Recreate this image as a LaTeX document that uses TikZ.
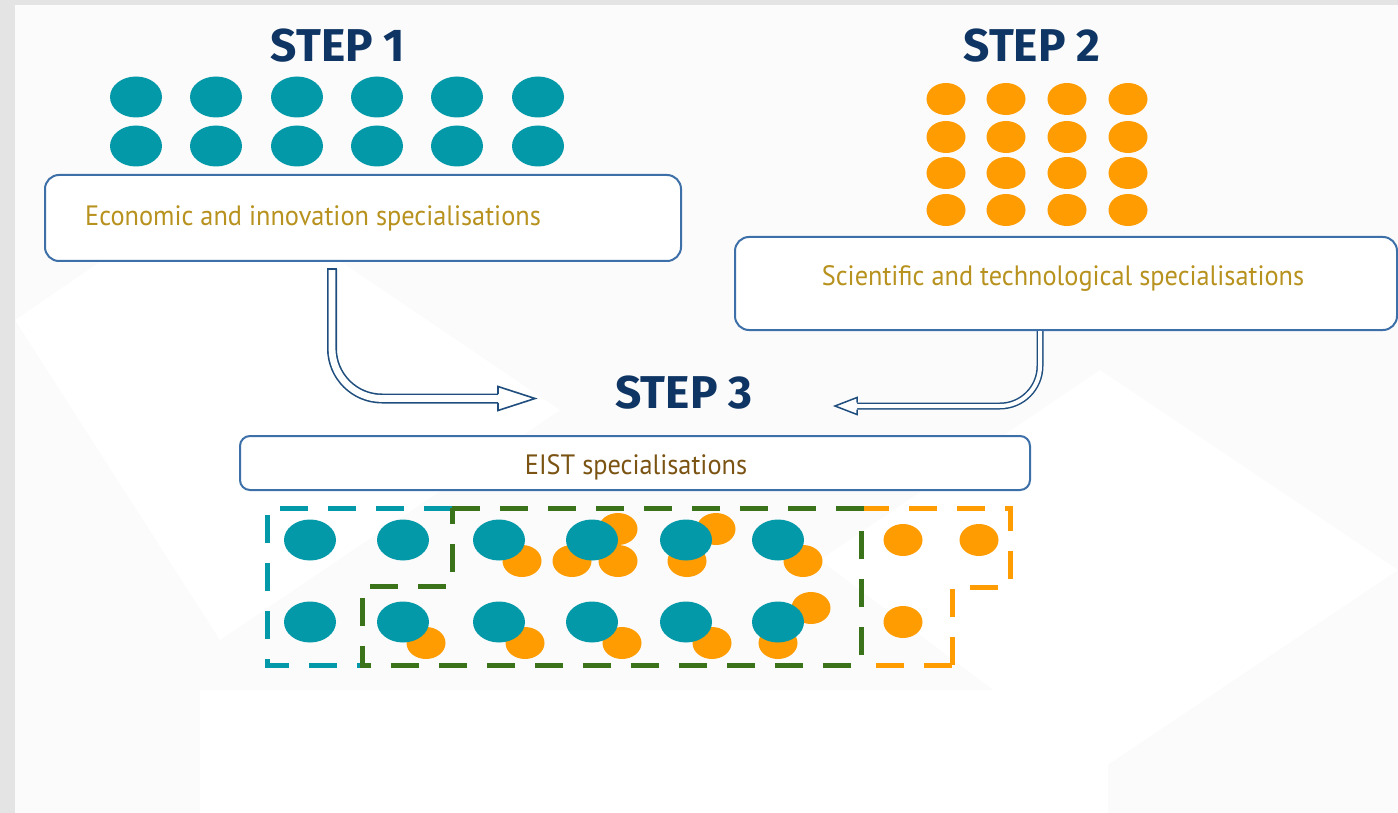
\documentclass[tikz,border=0pt]{standalone}
\usepackage{fontspec}
\setmainfont{PT Sans}
\newfontfamily\boxfont{PT Sans}[FakeStretch=0.94]
\newfontfamily\stepfont{Fira Sans}
\usetikzlibrary{calc}
\definecolor{tealc}{HTML}{0499A8}
\definecolor{orangec}{HTML}{FE9C02}
\definecolor{greenc}{HTML}{3B731B}
\definecolor{navy}{HTML}{0E3563}
\definecolor{boxblue}{HTML}{3D6FA8}
\definecolor{arrowblue}{HTML}{1F4E7E}
\definecolor{goldtxt}{HTML}{B8921E}
\definecolor{browntxt}{HTML}{7B5414}
\definecolor{bggray}{HTML}{E4E4E4}
\definecolor{panel}{HTML}{FBFBFB}
\tikzset{
  steptitle/.style={font=\stepfont\bfseries\fontsize{46}{50}\selectfont, text=navy, inner sep=0pt},
  specbox/.style={draw=boxblue, line width=2pt, rounded corners=14pt, fill=white, inner sep=0pt},
  boxtext/.style={font=\boxfont\fontsize{28}{31}\selectfont, inner sep=0pt},
  tdot/.style={fill=tealc},
  odot/.style={fill=orangec},
  zone/.style={line width=5pt, dash pattern=on 28pt off 20pt, line join=miter},
  hollow/.style={draw=arrowblue, line width=1.6pt, double=white},
  headshape/.style={draw=arrowblue, line width=1.6pt, fill=white, line join=miter}
}
\begin{document}
\begin{tikzpicture}[x=1pt,y=-1pt]
\useasboundingbox (0,0) rectangle (1398,813);
% background
\fill[bggray] (0,0) rectangle (1398,813);
\fill[panel] (15,5) rectangle (1398,813);
\fill[white] (15,320) -- (220,180) -- (560,410) -- (220,640) -- cycle;
\fill[white] (820,560) -- (1100,370) -- (1398,570) -- (1100,770) -- cycle;
\fill[white] (200,690) rectangle (1108,813);

% headings
\node[steptitle] (s1) at (338,46) {STEP 1};
\node[steptitle] (s2) at (1032,46) {STEP 2};
\node[steptitle] (s3) at (684,393) {STEP 3};

% step 1 dots
\foreach \x in {136,216,297,377,457,538}
  \foreach \y in {97,146}
    \fill[tdot] (\x,\y) ellipse [x radius=26, y radius=20.5];

% step 2 dots
\foreach \x in {946,1006,1067,1128}
  \foreach \y in {99,137,173,210}
    \fill[odot] (\x,\y) ellipse [x radius=19.5, y radius=16];

% boxes
\node[specbox, minimum width=636pt, minimum height=86pt] (box1) at (363,218) {};
\node[boxtext, text=goldtxt, anchor=base west] (t1) at (85,226) {Economic and innovation specialisations};
\node[specbox, minimum width=662pt, minimum height=93pt] (box2) at (1066,283.5) {};
\node[boxtext, text=goldtxt, anchor=base] (t2) at (1063,286) {Scientific and technological specialisations};
\node[specbox, rounded corners=10pt, minimum width=790pt, minimum height=54pt] (box3) at (635,463) {};
\node[boxtext, text=browntxt, anchor=base] (t3) at (636,474) {EIST specialisations};

% arrow 1
\coordinate (a1s) at ($(box1.south)+(-31,7)$);
\coordinate (a1e) at (498,398.5);
\coordinate (a1tip) at (535,398.5);
\draw[hollow, double distance=6.8pt, rounded corners=50pt] (a1s) |- (a1e);
\filldraw[headshape] ($(a1e)+(0,-4.4)$) -- ($(a1e)+(0,-12)$) -- (a1tip) -- ($(a1e)+(0,12)$) -- ($(a1e)+(0,4.4)$);
\draw[arrowblue, line width=1.6pt] ($(a1s)+(-5,0)$) -- ($(a1s)+(5,0)$);

% arrow 2
\coordinate (a2s) at (1040,331);
\coordinate (a2e) at (857,406);
\coordinate (a2tip) at (835,406);
\draw[hollow, line width=1.5pt, double distance=4pt, rounded corners=40pt] (a2s) |- (a2e);
\filldraw[headshape, line width=1.5pt] ($(a2e)+(0,-3.5)$) -- ($(a2e)+(0,-8.5)$) -- (a2tip) -- ($(a2e)+(0,8.5)$) -- ($(a2e)+(0,3.5)$);

% bottom orange dots
\foreach \p in {(522,561),(618,529),(572,561),(618,561),(716,529),(687,561),(803,561),(903,540),(979,540),
                (426,643),(525,643),(622,643),(712,643),(811,608),(778,643),(903,622)}
  \fill[odot] \p ellipse [x radius=19.5, y radius=16];
% bottom teal dots
\foreach \x in {310,403,499,592,686,778}
  \foreach \y in {540,622}
    \fill[tdot] (\x,\y) ellipse [x radius=26, y radius=20.5];

% dashed zones
\coordinate (z1) at (452,508);
\draw[zone, tealc] (z1) -- (267,508) -- (267,665) -- (360,665);
\draw[zone, orangec] (861,508) -- (1010,508) -- (1010,587) -- (952,587) -- (952,672);
\draw[zone, orangec] (952,665) -- (864,665);
\draw[zone, greenc] (z1) -- (861,508) -- (861,665) -- (362,665) -- (362,586) -- (452,586) -- cycle;
\end{tikzpicture}
\end{document}
